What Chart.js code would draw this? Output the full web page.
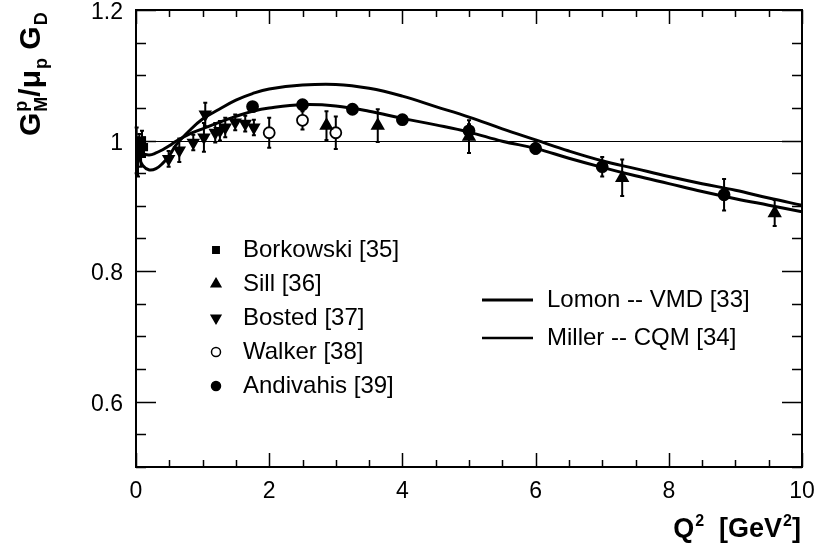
<!DOCTYPE html>
<html lang="en">
<head>
  <meta charset="UTF-8">
  <title>GMp / mu_p GD vs Q2</title>
  <script src="https://cdn.jsdelivr.net/npm/chart.js"></script>
  <style>
    html, body { margin: 0; padding: 0; background: #fff; }
    .wrap { width: 817px; height: 552px; }
  </style>
</head>
<body>
  <div class="wrap"><canvas id="ffChart" width="817" height="552"></canvas></div>

  <script>
    // --- data ---
    const xTicks = [0, 2, 4, 6, 8, 10];
    const yTicks = [0.6, 0.8, 1.0, 1.2];

    const borkQ = [0.01, 0.03, 0.05, 0.07, 0.09, 0.12];
    const borkG = [0.985, 0.975, 0.99, 0.98, 1.0, 0.99];
    const borkErr = [0.035, 0.03, 0.02, 0.02, 0.015, 0.015];

    const sillQ = [2.86, 3.63, 5.0, 7.3, 9.59];
    const sillG = [1.023, 1.023, 1.006, 0.943, 0.889];
    const sillErr = [0.022, 0.025, 0.025, 0.028, 0.02];

    const bostQ = [0.49, 0.65, 0.86, 1.02, 1.04, 1.19, 1.26, 1.34, 1.49, 1.64, 1.77];
    const bostG = [0.972, 0.985, 0.997, 1.005, 1.04, 1.012, 1.015, 1.02, 1.028, 1.026, 1.02];
    const bostErr = [0.012, 0.018, 0.012, 0.022, 0.018, 0.015, 0.015, 0.015, 0.012, 0.012, 0.012];

    const walkQ = [2.0, 2.5, 3.0];
    const walkG = [1.012, 1.031, 1.012];
    const walkErr = [0.023, 0.014, 0.025];

    const andiQ = [1.75, 2.5, 3.25, 4.0, 5.0, 6.0, 7.0, 8.83];
    const andiG = [1.052, 1.055, 1.048, 1.032, 1.015, 0.988, 0.96, 0.917];
    const andiErr = [0.005, 0.005, 0.005, 0.006, 0.01, 0.008, 0.015, 0.024];

    const curveQ = [0, 0.05, 0.1, 0.2, 0.3, 0.4, 0.5, 0.6, 0.8, 1.0, 1.25, 1.5, 1.75, 2.0, 2.5,
                    3.0, 3.5, 4.0, 4.5, 5.0, 5.5, 6.0, 6.5, 7.0, 7.5, 8.0, 8.5, 9.0, 9.5, 10];
    const lomonG = [1.0, 0.975, 0.962, 0.955, 0.957, 0.965, 0.977, 0.993, 1.015, 1.033, 1.048, 1.062, 1.072, 1.079, 1.085,
                    1.086, 1.08, 1.068, 1.052, 1.036, 1.018, 1.001, 0.984, 0.969, 0.957, 0.945, 0.934, 0.924, 0.912, 0.901];
    const millerG = [1.0, 0.986, 0.98, 0.978, 0.981, 0.986, 0.992, 0.999, 1.01, 1.018, 1.028, 1.037, 1.045, 1.05, 1.055,
                     1.053, 1.045, 1.034, 1.024, 1.013, 0.999, 0.988, 0.973, 0.959, 0.946, 0.934, 0.922, 0.911, 0.901, 0.891];

    const fam = '"Liberation Sans", Arial, Helvetica, sans-serif';
    const ink = '#000';

    const pts = (qs, gs, es) => qs.map((q, i) => ({ x: q, y: gs[i], e: es ? es[i] : 0 }));

    const markerSets = [
      { label: 'Borkowski [35]', data: pts(borkQ, borkG, borkErr), pointStyle: 'rect', pointRadius: 4.5, pointBackgroundColor: ink },
      { label: 'Sill [36]', data: pts(sillQ, sillG, sillErr), pointStyle: 'triangle', pointRadius: 6.5, pointBackgroundColor: ink },
      { label: 'Bosted [37]', data: pts(bostQ, bostG, bostErr), pointStyle: 'triangle', rotation: 180, pointRadius: 6, pointBackgroundColor: ink },
      { label: 'Walker [38]', data: pts(walkQ, walkG, walkErr), pointStyle: 'circle', pointRadius: 5.5, pointBackgroundColor: '#fff' },
      { label: 'Andivahis [39]', data: pts(andiQ, andiG, andiErr), pointStyle: 'circle', pointRadius: 5.5, pointBackgroundColor: ink }
    ].map(d => Object.assign({
      type: 'scatter', showLine: false, borderColor: ink, pointBorderColor: ink, pointBorderWidth: 1.8,
      pointHoverRadius: d.pointRadius
    }, d));

    const curveSets = [
      { label: 'Lomon -- VMD [33]', data: pts(curveQ, lomonG) },
      { label: 'Miller -- CQM [34]', data: pts(curveQ, millerG) }
    ].map(d => Object.assign({
      type: 'line', borderColor: ink, borderWidth: 3, pointRadius: 0, fill: false, tension: 0.4
    }, d));

    function drawMarker(ctx, style, x, y, r, filled) {
      ctx.beginPath();
      if (style === 'rect') {
        ctx.rect(x - r * 0.8, y - r * 0.8, r * 1.6, r * 1.6);
      } else if (style === 'up') {
        ctx.moveTo(x, y - r); ctx.lineTo(x + r * 0.87, y + r * 0.5); ctx.lineTo(x - r * 0.87, y + r * 0.5); ctx.closePath();
      } else if (style === 'down') {
        ctx.moveTo(x, y + r); ctx.lineTo(x + r * 0.87, y - r * 0.5); ctx.lineTo(x - r * 0.87, y - r * 0.5); ctx.closePath();
      } else {
        ctx.arc(x, y, r, 0, Math.PI * 2);
      }
      ctx.fillStyle = filled ? ink : '#fff';
      ctx.fill();
      ctx.lineWidth = 1.5; ctx.strokeStyle = ink; ctx.stroke();
    }

    // text with stacked super/subscripts: parts = [text, sup, sub]
    function richWidth(ctx, parts, big, small) {
      let w = 0;
      for (const [t, sup, sub] of parts) {
        ctx.font = `bold ${big}px ${fam}`; w += ctx.measureText(t).width;
        ctx.font = `bold ${small}px ${fam}`;
        w += Math.max(sup ? ctx.measureText(sup).width + 1 : 0, sub ? ctx.measureText(sub).width + 1 : 0);
      }
      return w;
    }
    function richText(ctx, parts, x, y, big, small) {
      let cx = x;
      ctx.textBaseline = 'alphabetic'; ctx.textAlign = 'left'; ctx.fillStyle = ink;
      for (const [t, sup, sub] of parts) {
        ctx.font = `bold ${big}px ${fam}`; ctx.fillText(t, cx, y); cx += ctx.measureText(t).width;
        ctx.font = `bold ${small}px ${fam}`;
        let w = 0;
        if (sup) { ctx.fillText(sup, cx + 1, y - big * 0.42); w = Math.max(w, ctx.measureText(sup).width + 1); }
        if (sub) { ctx.fillText(sub, cx + 1, y + small * 0.38); w = Math.max(w, ctx.measureText(sub).width + 1); }
        cx += w;
      }
    }

    const errorBars = {
      id: 'errorBars',
      beforeDatasetsDraw(chart) {
        const { ctx, chartArea: a, scales: { x, y } } = chart;
        ctx.save();
        // reference line at 1
        ctx.strokeStyle = ink; ctx.lineWidth = 1;
        const y1 = Math.round(y.getPixelForValue(1)) + 0.5;
        ctx.beginPath(); ctx.moveTo(a.left, y1); ctx.lineTo(a.right, y1); ctx.stroke();
        ctx.lineWidth = 2;
        chart.data.datasets.forEach(ds => {
          if (ds.type !== 'scatter') return;
          ds.data.forEach(p => {
            const px = x.getPixelForValue(p.x);
            const top = y.getPixelForValue(p.y + p.e), bot = y.getPixelForValue(p.y - p.e);
            ctx.beginPath();
            ctx.moveTo(px, top); ctx.lineTo(px, bot);
            ctx.moveTo(px - 2, top); ctx.lineTo(px + 2, top);
            ctx.moveTo(px - 2, bot); ctx.lineTo(px + 2, bot);
            ctx.stroke();
          });
        });
        ctx.restore();
      }
    };

    const frameAndText = {
      id: 'frameAndText',
      afterDraw(chart) {
        const { ctx, chartArea: a, scales: { x, y } } = chart;
        ctx.save();
        ctx.strokeStyle = ink;
        // ticks pointing inward on all four sides
        ctx.lineWidth = 1.5;
        ctx.beginPath();
        for (let v = 0; v <= 10.001; v += 0.5) {
          const px = Math.round(x.getPixelForValue(v)) + 0.5;
          const len = xTicks.some(t => Math.abs(t - v) < 1e-6) ? 14 : 7;
          ctx.moveTo(px, a.bottom); ctx.lineTo(px, a.bottom - len);
          ctx.moveTo(px, a.top); ctx.lineTo(px, a.top + len);
        }
        for (let v = 0.5; v <= 1.2001; v += 0.05) {
          const py = Math.round(y.getPixelForValue(v)) + 0.5;
          const len = yTicks.some(t => Math.abs(t - v) < 1e-6) ? 20 : 10;
          ctx.moveTo(a.left, py); ctx.lineTo(a.left + len, py);
          ctx.moveTo(a.right, py); ctx.lineTo(a.right - len, py);
        }
        ctx.stroke();
        // frame
        ctx.lineWidth = 2;
        ctx.strokeRect(a.left, a.top, a.right - a.left, a.bottom - a.top);

        // marker legend
        const lx = 216, tx = 243, rowY = [250, 284, 318, 352, 386];
        const styles = [['rect', 4, true], ['up', 5.5, true], ['down', 5.5, true], ['circle', 4.5, false], ['circle', 4.5, true]];
        markerSets.forEach((d, i) => {
          const [s, r, f] = styles[i];
          drawMarker(ctx, s, lx, rowY[i], r, f);
          ctx.fillStyle = ink; ctx.font = `24px ${fam}`; ctx.textBaseline = 'middle'; ctx.textAlign = 'left';
          ctx.fillText(d.label, tx, rowY[i]);
        });
        // curve legend
        const cy = [300, 338];
        curveSets.forEach((d, i) => {
          ctx.lineWidth = i === 0 ? 3 : 2.5;
          ctx.beginPath(); ctx.moveTo(482, cy[i]); ctx.lineTo(533, cy[i]); ctx.stroke();
          ctx.fillStyle = ink; ctx.font = `24px ${fam}`; ctx.textBaseline = 'middle';
          ctx.fillText(d.label, 547, cy[i]);
        });

        // x axis title
        const xParts = [['Q', '2', null], ['  [GeV', '2', null], [']', null, null]];
        const w = richWidth(ctx, xParts, 27, 16);
        richText(ctx, xParts, 801 - w, 537, 27, 16);

        // y axis title, rotated
        ctx.save();
        ctx.translate(40, 136);
        ctx.rotate(-Math.PI / 2);
        richText(ctx, [['G', 'p', 'M'], ['/\u03bc', null, 'p'], [' G', null, 'D']], 0, 0, 30, 18);
        ctx.restore();
        ctx.restore();
      }
    };

    const ctx = document.getElementById('ffChart').getContext('2d');
    Chart.defaults.color = ink;
    Chart.defaults.font.family = fam;

    new Chart(ctx, {
      type: 'scatter',
      data: { datasets: [...curveSets, ...markerSets] },
      options: {
        responsive: false,
        animation: false,
        layout: { padding: { left: 0, right: 15, top: 10, bottom: 0 } },
        plugins: { legend: { display: false }, tooltip: { enabled: false } },
        scales: {
          x: {
            type: 'linear', min: 0, max: 10,
            grid: { display: false }, border: { display: false },
            afterBuildTicks: s => { s.ticks = xTicks.map(v => ({ value: v })); },
            afterFit: s => { s.height = 85; s.paddingLeft = 0; s.paddingRight = 0; },
            ticks: { font: { size: 23 }, padding: 3, maxRotation: 0 }
          },
          y: {
            type: 'linear', min: 0.5, max: 1.2,
            grid: { display: false }, border: { display: false },
            afterBuildTicks: s => { s.ticks = yTicks.map(v => ({ value: v })); },
            afterFit: s => { s.width = 136; s.paddingTop = 0; s.paddingBottom = 0; },
            ticks: { font: { size: 23 }, padding: 5, labelOffset: 3, callback: v => String(+Number(v).toFixed(2)) }
          }
        }
      },
      plugins: [errorBars, frameAndText]
    });
  </script>
</body>
</html>
